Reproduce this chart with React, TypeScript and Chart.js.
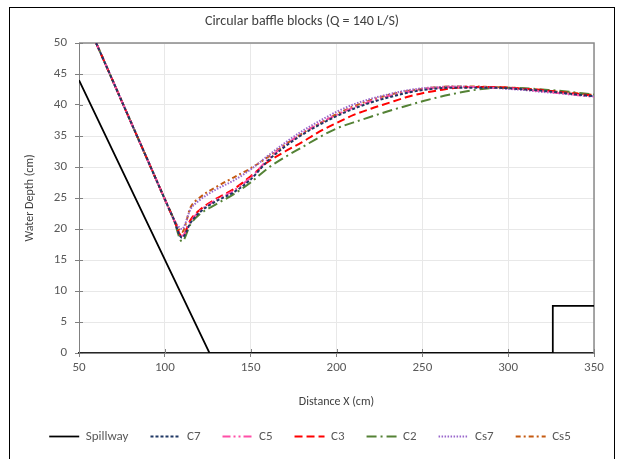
import React, { useEffect, useRef } from "react";
import { Chart, registerables } from "chart.js";
Chart.register(...registerables);

const FONT = "Carlito, Calibri, Lato, 'Open Sans', sans-serif";

const chartTitle = "Circular baffle blocks (Q = 140 L/S)";
const xAxisTitle = "Distance X (cm)";
const yAxisTitle = "Water Depth (cm)";
const seriesNames = ["Spillway", "C7", "C5", "C3", "C2", "Cs7", "Cs5"];

const xMin = 50;
const xMax = 350;
const xStep = 50;
const yMin = 0;
const yMax = 50;
const yStep = 5;

const spillwayX = [50, 126, 326, 326, 350];
const spillwayY = [44, 0, 0, 7.6, 7.6];

const distX = [60, 70, 80, 90, 100, 105, 110, 115, 120, 130, 140, 150, 160, 170, 180, 190, 200, 210, 220, 230, 240, 250, 260, 270, 280, 290, 300, 310, 320, 330, 340, 350];

const c7 = [50, 43.7, 37.4, 31.1, 24.8, 21.7, 18.6, 21.0, 22.6, 24.5, 25.9, 28.0, 31.0, 33.3, 35.2, 36.8, 38.2, 39.4, 40.4, 41.2, 41.9, 42.4, 42.7, 42.8, 42.8, 42.8, 42.7, 42.5, 42.3, 42.0, 41.7, 41.4];
const c5 = [50, 43.7, 37.4, 31.1, 24.8, 21.7, 18.9, 21.2, 22.8, 24.7, 26.2, 28.3, 31.2, 33.5, 35.4, 37.0, 38.4, 39.6, 40.6, 41.4, 42.0, 42.5, 42.8, 42.9, 42.9, 42.8, 42.7, 42.5, 42.2, 41.9, 41.6, 41.3];
const c3 = [50, 43.7, 37.4, 31.1, 24.8, 21.7, 18.8, 21.5, 23.0, 24.9, 26.4, 28.5, 30.8, 32.5, 34.0, 35.7, 37.1, 38.4, 39.4, 40.3, 41.2, 41.9, 42.4, 42.8, 42.9, 42.9, 42.8, 42.6, 42.4, 42.1, 41.8, 41.5];
const c2 = [50, 43.7, 37.4, 31.1, 24.8, 21.7, 18.0, 20.8, 22.3, 24.0, 25.6, 27.5, 29.8, 31.6, 33.2, 34.8, 36.2, 37.2, 38.1, 39.0, 39.8, 40.6, 41.3, 41.9, 42.4, 42.7, 42.8, 42.7, 42.5, 42.3, 42.0, 41.7];
const cs7 = [50, 43.7, 37.4, 31.1, 24.8, 21.7, 20.0, 23.2, 24.6, 26.4, 27.8, 29.6, 31.8, 33.9, 35.8, 37.4, 38.9, 40.1, 41.0, 41.7, 42.3, 42.7, 42.9, 43.0, 42.9, 42.8, 42.6, 42.4, 42.1, 41.9, 41.6, 41.4];
const cs5 = [50, 43.7, 37.4, 31.1, 24.8, 21.7, 19.5, 23.5, 25.0, 26.8, 28.3, 29.8, 31.6, 33.6, 35.4, 37.0, 38.5, 39.8, 40.8, 41.6, 42.2, 42.6, 42.9, 43.0, 43.0, 42.9, 42.8, 42.6, 42.4, 42.1, 41.9, 41.6];

const pts = (xs: number[], ys: number[]) => xs.map((x, i) => ({ x, y: ys[i] }));

const plotBorder = {
  id: "plotBorder",
  beforeDatasetsDraw(chart: any) {
    const { ctx, chartArea } = chart;
    const { left, right, top, bottom } = chartArea;
    ctx.save();
    ctx.strokeStyle = "#8a8a8a";
    ctx.lineWidth = 1.5;
    ctx.beginPath();
    ctx.moveTo(left, top);
    ctx.lineTo(right, top);
    ctx.lineTo(right, bottom);
    ctx.stroke();
    ctx.lineWidth = 1;
    ctx.strokeStyle = "#808080";
    ctx.beginPath();
    const ys = chart.scales.y;
    ys.ticks.forEach((t: any) => {
      const py = Math.round(ys.getPixelForValue(t.value)) + 0.5;
      ctx.moveTo(left, py);
      ctx.lineTo(left + 4, py);
    });
    const xs = chart.scales.x;
    xs.ticks.forEach((t: any) => {
      const px = Math.round(xs.getPixelForValue(t.value)) + 0.5;
      ctx.moveTo(px, bottom);
      ctx.lineTo(px, bottom - 4);
    });
    ctx.stroke();
    ctx.restore();
  },
};

const legendShift = {
  id: "legendShift",
  afterLayout(chart: any) {
    const lg = chart.legend;
    if (lg) {
      lg.top -= 15;
      lg.left += 8;
      lg.right += 8;
    }
  },
};

export default function App() {
  const ref = useRef<HTMLCanvasElement>(null);
  useEffect(() => {
    const canvas = ref.current!;
    const common = { pointRadius: 0, pointHoverRadius: 0, fill: false, cubicInterpolationMode: "monotone" as const };
    const chart = new Chart(canvas, {
      type: "line",
      data: {
        datasets: [
          { label: seriesNames[0], data: pts(spillwayX, spillwayY), borderColor: "#000000", borderWidth: 1.75, borderDash: [], ...common, cubicInterpolationMode: "default", tension: 0 },
          { label: seriesNames[1], data: pts(distX, c7), borderColor: "#203864", borderWidth: 2, borderDash: [3, 2], ...common },
          { label: seriesNames[2], data: pts(distX, c5), borderColor: "#FF4FA7", borderWidth: 2, borderDash: [8, 3, 2, 3, 2, 3], ...common },
          { label: seriesNames[3], data: pts(distX, c3), borderColor: "#FF0000", borderWidth: 2, borderDash: [8, 4], ...common },
          { label: seriesNames[4], data: pts(distX, c2), borderColor: "#548235", borderWidth: 2, borderDash: [10, 4, 2, 4], ...common },
          { label: seriesNames[5], data: pts(distX, cs7), borderColor: "#9966CC", borderWidth: 2, borderDash: [1.5, 1.5], ...common },
          { label: seriesNames[6], data: pts(distX, cs5), borderColor: "#C55A11", borderWidth: 2, borderDash: [5, 3, 2, 3], ...common },
        ],
      },
      options: {
        responsive: false,
        animation: false,
        devicePixelRatio: 1,
        layout: { padding: { left: 0, right: 20, top: 0, bottom: 0 } },
        plugins: {
          title: {
            display: true,
            text: chartTitle,
            color: "#404040",
            font: { family: FONT, size: 14, weight: "normal" },
            padding: { top: 5.5, bottom: 12.7 },
          },
          legend: {
            display: true,
            position: "bottom",
            maxHeight: 36,
            labels: {
              usePointStyle: true,
              pointStyle: "line",
              pointStyleWidth: 30,
              padding: 22,
              color: "#595959",
              font: { family: FONT, size: 13 },
              generateLabels: (ch: any) => {
                const items = (Chart as any).defaults.plugins.legend.labels.generateLabels(ch);
                return items.map((it: any) => {
                  const ds = ch.data.datasets[it.datasetIndex];
                  return { ...it, lineDash: ds.borderDash, lineWidth: ds.borderWidth, strokeStyle: ds.borderColor, lineCap: "butt" };
                });
              },
            },
          },
          tooltip: { enabled: false },
        },
        scales: {
          x: {
            type: "linear",
            min: xMin,
            max: xMax,
            afterFit: (s: any) => { s.height = 70; },
            ticks: { stepSize: xStep, color: "#595959", font: { family: FONT, size: 13 }, padding: 3 },
            grid: { color: "#e8e8e8", tickColor: "#808080", tickLength: 4, drawTicks: true },
            border: { color: "#262626", width: 1.5 },
            title: { display: true, text: xAxisTitle, color: "#404040", font: { family: FONT, size: 12 }, padding: { top: 0, bottom: 14 } },
          },
          y: {
            type: "linear",
            min: yMin,
            max: yMax,
            afterFit: (s: any) => { s.width = 69; },
            ticks: { stepSize: yStep, color: "#595959", font: { family: FONT, size: 13 }, padding: 8 },
            grid: { color: "#e8e8e8", tickColor: "#808080", tickLength: 4, drawTicks: true },
            border: { color: "#808080", width: 1 },
            title: { display: true, text: yAxisTitle, color: "#404040", font: { family: FONT, size: 12 }, padding: { top: 13, bottom: 0 } },
          },
        },
      } as any,
      plugins: [plotBorder, legendShift],
    });
    return () => chart.destroy();
  }, []);
  return (
    <div
      style={{
        position: "absolute",
        left: 9,
        top: 7,
        width: 606,
        height: 452,
        boxSizing: "border-box",
        borderLeft: "1px solid #000",
        borderTop: "1px solid #000",
        borderRight: "1px solid #000",
        background: "#fff",
      }}
    >
      <canvas ref={ref} width={604} height={451} style={{ display: "block", width: 604, height: 451 }} />
    </div>
  );
}
